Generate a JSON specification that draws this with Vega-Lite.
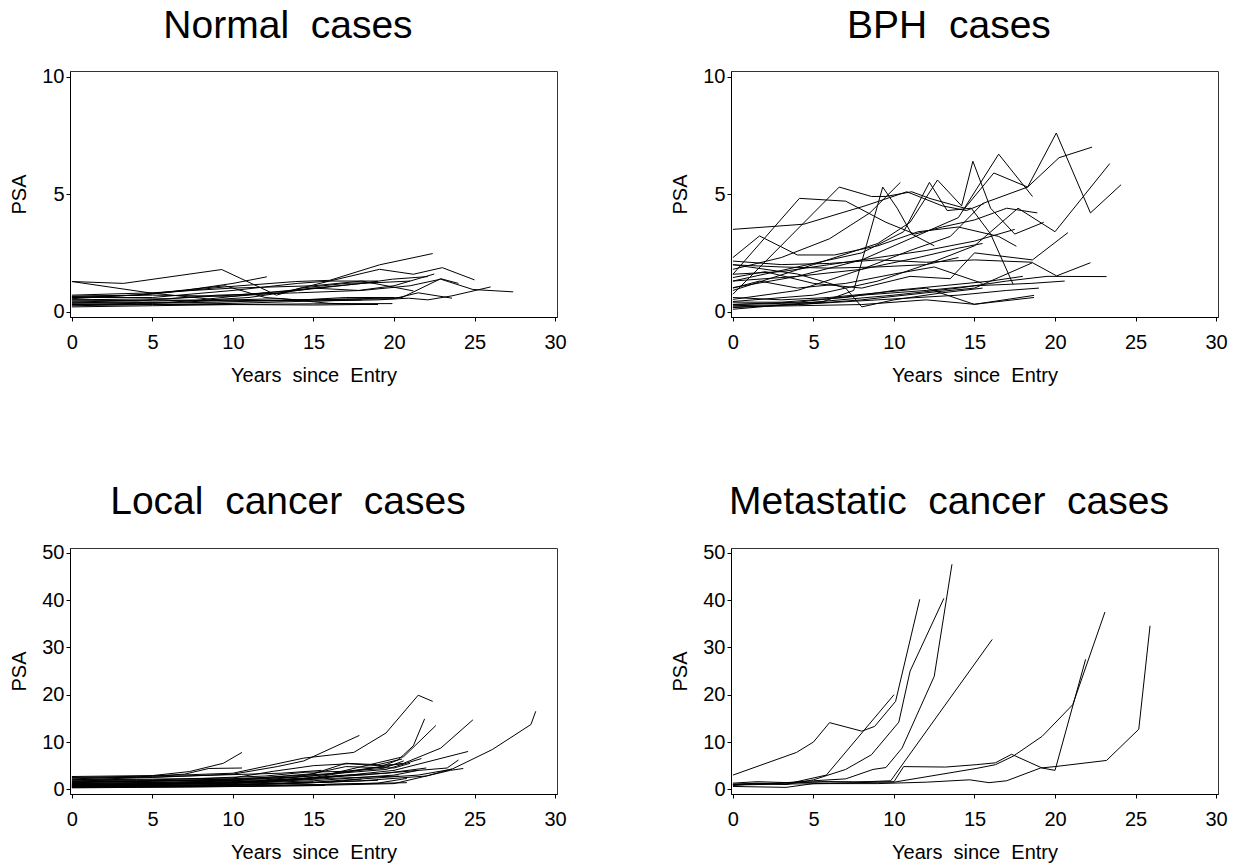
{
"$schema": "https://vega.github.io/schema/vega-lite/v6.json",
"background": "white",
"padding": {"left": 9, "top": 6, "right": 5, "bottom": 0},
"config": {
 "view": {"stroke": "#333", "strokeWidth": 1},
 "axis": {"grid": false, "domainColor": "#000", "domainWidth": 1, "tickColor": "#000", "tickSize": 4, "labelFont": "Liberation Sans", "labelFontSize": 20, "labelColor": "#000", "titleFont": "Liberation Sans", "titleFontSize": 20, "titleFontWeight": "normal", "titleColor": "#000", "labelOverlap": false},
 "axisX": {"labelPadding": 11, "titlePadding": 13, "labelFlush": false},
 "axisY": {"labelPadding": 2, "titlePadding": 12},
 "title": {"font": "Liberation Sans", "fontSize": 39, "fontWeight": "normal", "color": "#000", "anchor": "middle", "frame": "bounds", "offset": 21},
 "line": {"color": "#000", "strokeWidth": 1}
},
"columns": 2,
"spacing": {"row": 96, "column": 103},
"datasets": {
"normal": [
{"i":1,"t":0,"v":1.28},{"i":1,"t":3.2,"v":1.2},{"i":1,"t":9.3,"v":1.79},{"i":1,"t":12.7,"v":0.7},{"i":1,"t":14.2,"v":1.0},{"i":1,"t":17,"v":1.2},{"i":1,"t":19,"v":1.25},
{"i":2,"t":0,"v":1.28},{"i":2,"t":4.8,"v":0.8},{"i":2,"t":9,"v":0.5},{"i":2,"t":13,"v":0.45},{"i":2,"t":17,"v":0.6},{"i":2,"t":20,"v":0.6},
{"i":3,"t":0,"v":0.65},{"i":3,"t":4,"v":0.7},{"i":3,"t":7,"v":0.9},{"i":3,"t":10,"v":1.2},{"i":3,"t":12.1,"v":1.48},
{"i":4,"t":0,"v":0.55},{"i":4,"t":5,"v":0.75},{"i":4,"t":9.5,"v":1.05},{"i":4,"t":13.9,"v":1.28},{"i":4,"t":16,"v":1.33},{"i":4,"t":19.1,"v":1.99},{"i":4,"t":22.4,"v":2.47},
{"i":5,"t":0,"v":0.6},{"i":5,"t":5,"v":0.6},{"i":5,"t":10,"v":0.9},{"i":5,"t":14,"v":1.2},{"i":5,"t":16,"v":1.3},{"i":5,"t":19.1,"v":1.8},{"i":5,"t":21.2,"v":1.59},{"i":5,"t":23,"v":1.87},{"i":5,"t":25,"v":1.35},
{"i":6,"t":0,"v":0.45},{"i":6,"t":4,"v":0.45},{"i":6,"t":9,"v":0.7},{"i":6,"t":14,"v":0.8},{"i":6,"t":18,"v":0.9},{"i":6,"t":21,"v":1.1},{"i":6,"t":22.9,"v":1.38},{"i":6,"t":24.9,"v":0.94},{"i":6,"t":27.4,"v":0.84},
{"i":7,"t":0,"v":0.3},{"i":7,"t":5,"v":0.3},{"i":7,"t":10,"v":0.35},{"i":7,"t":15,"v":0.45},{"i":7,"t":19,"v":0.5},{"i":7,"t":20.9,"v":0.57},{"i":7,"t":22.1,"v":0.5},{"i":7,"t":23.6,"v":0.67},{"i":7,"t":26,"v":1.05},
{"i":8,"t":0,"v":0.5},{"i":8,"t":6,"v":0.55},{"i":8,"t":10,"v":0.7},{"i":8,"t":14,"v":0.9},{"i":8,"t":18,"v":1.2},{"i":8,"t":19.9,"v":1.38},{"i":8,"t":22.1,"v":1.49},
{"i":9,"t":0,"v":0.4},{"i":9,"t":5,"v":0.5},{"i":9,"t":10,"v":0.45},{"i":9,"t":15,"v":0.5},{"i":9,"t":20,"v":0.55},{"i":9,"t":21.5,"v":0.8},{"i":9,"t":23.6,"v":0.57},
{"i":10,"t":0,"v":0.7},{"i":10,"t":5,"v":0.8},{"i":10,"t":10,"v":1.0},{"i":10,"t":15,"v":1.1},{"i":10,"t":18,"v":1.3},{"i":10,"t":21.2,"v":0.88},
{"i":11,"t":0,"v":0.35},{"i":11,"t":6,"v":0.4},{"i":11,"t":11,"v":0.6},{"i":11,"t":15,"v":1.0},{"i":11,"t":18,"v":1.2},{"i":11,"t":21,"v":1.3},
{"i":12,"t":0,"v":0.25},{"i":12,"t":5,"v":0.3},{"i":12,"t":10,"v":0.3},{"i":12,"t":15,"v":0.33},{"i":12,"t":19.9,"v":0.34},
{"i":13,"t":0,"v":0.2},{"i":13,"t":5,"v":0.25},{"i":13,"t":10,"v":0.3},{"i":13,"t":15,"v":0.28},{"i":13,"t":19,"v":0.31},
{"i":14,"t":0,"v":0.6},{"i":14,"t":4,"v":0.7},{"i":14,"t":9.5,"v":1.1},{"i":14,"t":12,"v":0.6},{"i":14,"t":15,"v":0.45},{"i":14,"t":18,"v":0.5},
{"i":15,"t":0,"v":0.4},{"i":15,"t":5,"v":0.35},{"i":15,"t":10,"v":0.5},{"i":15,"t":13,"v":0.55},{"i":15,"t":16,"v":0.35},{"i":15,"t":19,"v":0.3},
{"i":16,"t":0,"v":0.5},{"i":16,"t":5,"v":0.45},{"i":16,"t":8,"v":0.5},{"i":16,"t":12,"v":0.8},{"i":16,"t":15,"v":1.0},{"i":16,"t":17.8,"v":0.9},{"i":16,"t":20,"v":1.1},{"i":16,"t":22.5,"v":1.6},
{"i":17,"t":0,"v":0.3},{"i":17,"t":4,"v":0.35},{"i":17,"t":9,"v":0.4},{"i":17,"t":14,"v":0.5},{"i":17,"t":18,"v":0.55},{"i":17,"t":20.5,"v":0.6},{"i":17,"t":22.9,"v":1.4},{"i":17,"t":24,"v":1.2},
{"i":18,"t":0,"v":0.65},{"i":18,"t":5,"v":0.7},{"i":18,"t":10,"v":0.65},{"i":18,"t":13,"v":0.8},{"i":18,"t":16,"v":1.3},{"i":18,"t":19,"v":1.3}
],
"bph": [
{"i":1,"t":0,"v":3.5},{"i":1,"t":4.4,"v":3.72},{"i":1,"t":8.2,"v":4.5},{"i":1,"t":10.8,"v":5.1},{"i":1,"t":13,"v":4.5},{"i":1,"t":14.5,"v":4.3},{"i":1,"t":15.6,"v":4.6},
{"i":2,"t":0,"v":2.3},{"i":2,"t":1.65,"v":3.22},{"i":2,"t":4,"v":2.41},{"i":2,"t":6.3,"v":2.41},{"i":2,"t":9,"v":2.8},{"i":2,"t":11.5,"v":3.4},{"i":2,"t":14,"v":3.6},{"i":2,"t":16.5,"v":3.2},{"i":2,"t":17.6,"v":2.78},
{"i":3,"t":0,"v":1.59},{"i":3,"t":4.13,"v":4.82},{"i":3,"t":7,"v":4.7},{"i":3,"t":9.5,"v":3.8},{"i":3,"t":11.3,"v":3.3},{"i":3,"t":13,"v":3.6},{"i":3,"t":15,"v":3.9},{"i":3,"t":17,"v":4.4},{"i":3,"t":18.9,"v":4.2},
{"i":4,"t":0,"v":0.74},{"i":4,"t":6.6,"v":5.3},{"i":4,"t":8.6,"v":4.9},{"i":4,"t":9.5,"v":4.9},{"i":4,"t":11.1,"v":5.1},{"i":4,"t":12.3,"v":4.8},{"i":4,"t":14.4,"v":4.4},{"i":4,"t":16.2,"v":5.9},{"i":4,"t":18.3,"v":5.3},{"i":4,"t":20.25,"v":6.55},{"i":4,"t":22.3,"v":7.0},
{"i":5,"t":0,"v":1.8},{"i":5,"t":3,"v":2.3},{"i":5,"t":6,"v":3.1},{"i":5,"t":8.5,"v":4.2},{"i":5,"t":10.4,"v":5.5},
{"i":6,"t":0,"v":0.3},{"i":6,"t":3,"v":0.35},{"i":6,"t":5.5,"v":0.4},{"i":6,"t":7.5,"v":0.9},{"i":6,"t":9.3,"v":5.3},{"i":6,"t":10.2,"v":4.4},{"i":6,"t":11.1,"v":3.3},{"i":6,"t":12.5,"v":2.8},
{"i":7,"t":0,"v":1.3},{"i":7,"t":4,"v":1.9},{"i":7,"t":8,"v":2.5},{"i":7,"t":10.6,"v":3.4},{"i":7,"t":12.2,"v":5.5},{"i":7,"t":13.3,"v":4.3},{"i":7,"t":14.8,"v":4.4},{"i":7,"t":16,"v":3.3},{"i":7,"t":17.4,"v":1.16},
{"i":8,"t":0,"v":0.9},{"i":8,"t":5,"v":2.0},{"i":8,"t":9,"v":2.9},{"i":8,"t":11,"v":3.8},{"i":8,"t":12.7,"v":5.6},{"i":8,"t":14.2,"v":4.5},{"i":8,"t":14.9,"v":6.4},{"i":8,"t":16,"v":4.4},{"i":8,"t":17.5,"v":3.3},{"i":8,"t":19.3,"v":3.8},
{"i":9,"t":0,"v":1.02},{"i":9,"t":4,"v":1.5},{"i":9,"t":8,"v":2.2},{"i":9,"t":11,"v":3.1},{"i":9,"t":14,"v":4.0},{"i":9,"t":16.5,"v":6.7},{"i":9,"t":18.6,"v":4.9},
{"i":10,"t":0,"v":0.52},{"i":10,"t":4,"v":0.9},{"i":10,"t":8,"v":1.8},{"i":10,"t":11,"v":2.6},{"i":10,"t":13.5,"v":3.2},{"i":10,"t":15.5,"v":4.6},{"i":10,"t":18.3,"v":5.3},{"i":10,"t":20.08,"v":7.6},{"i":10,"t":22.2,"v":4.2},{"i":10,"t":24.1,"v":5.4},
{"i":11,"t":0,"v":0.43},{"i":11,"t":5,"v":0.7},{"i":11,"t":9,"v":1.3},{"i":11,"t":12,"v":2.0},{"i":11,"t":15,"v":2.8},{"i":11,"t":17.7,"v":4.4},{"i":11,"t":20,"v":3.4},{"i":11,"t":23.4,"v":6.3},
{"i":12,"t":0,"v":1.45},{"i":12,"t":2,"v":1.7},{"i":12,"t":5,"v":1.2},{"i":12,"t":8,"v":1.0},{"i":12,"t":11,"v":1.5},{"i":12,"t":13.5,"v":1.4},{"i":12,"t":15,"v":2.5},{"i":12,"t":18.6,"v":2.2},{"i":12,"t":20.8,"v":3.36},
{"i":13,"t":0,"v":0.17},{"i":13,"t":4,"v":0.3},{"i":13,"t":8,"v":0.5},{"i":13,"t":12,"v":0.8},{"i":13,"t":15,"v":1.0},{"i":13,"t":18.6,"v":2.08},{"i":13,"t":20.1,"v":1.52},{"i":13,"t":22.2,"v":2.08},
{"i":14,"t":0,"v":0.1},{"i":14,"t":5,"v":0.4},{"i":14,"t":10,"v":0.7},{"i":14,"t":14,"v":1.0},{"i":14,"t":17,"v":1.3},{"i":14,"t":19.5,"v":1.5},{"i":14,"t":23.2,"v":1.49},
{"i":15,"t":0,"v":0.31},{"i":15,"t":4,"v":0.4},{"i":15,"t":8,"v":0.7},{"i":15,"t":12,"v":0.9},{"i":15,"t":15,"v":1.1},{"i":15,"t":18.5,"v":1.2},{"i":15,"t":20.6,"v":1.3},
{"i":16,"t":0,"v":0.2},{"i":16,"t":4,"v":0.25},{"i":16,"t":8,"v":0.3},{"i":16,"t":12,"v":0.5},{"i":16,"t":15,"v":0.31},{"i":16,"t":18.7,"v":0.69},
{"i":17,"t":0,"v":2.15},{"i":17,"t":3,"v":2.0},{"i":17,"t":6,"v":2.05},{"i":17,"t":9,"v":2.2},{"i":17,"t":12,"v":2.1},{"i":17,"t":15,"v":2.2},{"i":17,"t":18.6,"v":2.1},
{"i":18,"t":0,"v":1.99},{"i":18,"t":3,"v":1.9},{"i":18,"t":6,"v":1.85},{"i":18,"t":9,"v":1.9},{"i":18,"t":12,"v":2.0},{"i":18,"t":14,"v":2.3},
{"i":19,"t":0,"v":2.0},{"i":19,"t":4,"v":1.6},{"i":19,"t":7,"v":1.0},{"i":19,"t":8,"v":0.2},{"i":19,"t":10,"v":0.5},{"i":19,"t":13,"v":0.8},{"i":19,"t":15.5,"v":1.0},
{"i":20,"t":0,"v":1.0},{"i":20,"t":1.65,"v":1.3},{"i":20,"t":4,"v":1.0},{"i":20,"t":7,"v":1.2},{"i":20,"t":10,"v":1.6},{"i":20,"t":12.5,"v":1.9},{"i":20,"t":15.5,"v":1.2},
{"i":21,"t":0,"v":0.6},{"i":21,"t":3,"v":0.5},{"i":21,"t":6,"v":0.6},{"i":21,"t":9,"v":0.8},{"i":21,"t":12,"v":1.0},{"i":21,"t":14.98,"v":0.31},{"i":21,"t":18.7,"v":0.6},
{"i":22,"t":0,"v":1.59},{"i":22,"t":3,"v":1.7},{"i":22,"t":6,"v":2.0},{"i":22,"t":9,"v":2.3},{"i":22,"t":12,"v":2.6},{"i":22,"t":15,"v":3.0},{"i":22,"t":17.5,"v":3.5},
{"i":23,"t":0,"v":0.4},{"i":23,"t":3,"v":0.4},{"i":23,"t":7,"v":0.6},{"i":23,"t":10,"v":0.9},{"i":23,"t":13,"v":1.1},{"i":23,"t":16,"v":1.3},{"i":23,"t":18,"v":1.5},
{"i":24,"t":0,"v":0.25},{"i":24,"t":4,"v":0.3},{"i":24,"t":9,"v":0.5},{"i":24,"t":14,"v":0.7},{"i":24,"t":17,"v":0.9},{"i":24,"t":19,"v":1.0},
{"i":25,"t":0,"v":1.3},{"i":25,"t":4,"v":1.5},{"i":25,"t":8,"v":1.8},{"i":25,"t":11.5,"v":2.3},{"i":25,"t":14,"v":2.7},{"i":25,"t":15.5,"v":2.9}
],
"local": [
{"i":1,"t":0,"v":2.5},{"i":1,"t":5,"v":2.8},{"i":1,"t":10,"v":3.4},{"i":1,"t":12.2,"v":5.0},{"i":1,"t":14.4,"v":6.6},{"i":1,"t":17.5,"v":7.8},{"i":1,"t":19.5,"v":11.9},{"i":1,"t":21.5,"v":19.9},{"i":1,"t":22.4,"v":18.6},
{"i":2,"t":0,"v":2.0},{"i":2,"t":5,"v":2.5},{"i":2,"t":10,"v":3.2},{"i":2,"t":12.75,"v":4.8},{"i":2,"t":14.4,"v":6.0},{"i":2,"t":17.85,"v":11.4},
{"i":3,"t":0,"v":1.5},{"i":3,"t":5,"v":1.8},{"i":3,"t":10,"v":2.0},{"i":3,"t":15,"v":2.8},{"i":3,"t":19.2,"v":4.8},{"i":3,"t":20.25,"v":6.2},{"i":3,"t":21.2,"v":9.2},{"i":3,"t":21.9,"v":14.9},
{"i":4,"t":0,"v":1.2},{"i":4,"t":6,"v":1.5},{"i":4,"t":12,"v":2.0},{"i":4,"t":16,"v":3.2},{"i":4,"t":20.6,"v":6.9},{"i":4,"t":22.6,"v":13.5},
{"i":5,"t":0,"v":1.0},{"i":5,"t":5,"v":1.2},{"i":5,"t":10,"v":1.5},{"i":5,"t":15,"v":2.5},{"i":5,"t":20.6,"v":5.5},{"i":5,"t":22.9,"v":8.7},{"i":5,"t":24.9,"v":14.7},
{"i":6,"t":0,"v":0.8},{"i":6,"t":5,"v":1.0},{"i":6,"t":10,"v":1.3},{"i":6,"t":15,"v":2.2},{"i":6,"t":20,"v":4.0},{"i":6,"t":24.6,"v":8.0},
{"i":7,"t":0,"v":0.6},{"i":7,"t":5,"v":0.8},{"i":7,"t":10,"v":1.0},{"i":7,"t":15,"v":1.5},{"i":7,"t":21.5,"v":3.0},{"i":7,"t":23.6,"v":4.25},{"i":7,"t":26.1,"v":8.4},{"i":7,"t":28.5,"v":13.7},{"i":7,"t":28.8,"v":16.5},
{"i":8,"t":0,"v":0.9},{"i":8,"t":6,"v":1.2},{"i":8,"t":12,"v":1.8},{"i":8,"t":18,"v":3.0},{"i":8,"t":23.3,"v":4.5},{"i":8,"t":24,"v":6.2},
{"i":9,"t":0,"v":0.5},{"i":9,"t":5,"v":0.6},{"i":9,"t":10,"v":0.8},{"i":9,"t":15.5,"v":1.0},{"i":9,"t":20.8,"v":1.4},
{"i":10,"t":0,"v":2.7},{"i":10,"t":5,"v":2.9},{"i":10,"t":7.3,"v":3.75},{"i":10,"t":9.4,"v":5.5},{"i":10,"t":10.56,"v":7.8},
{"i":11,"t":0,"v":2.2},{"i":11,"t":4,"v":2.6},{"i":11,"t":7,"v":3.2},{"i":11,"t":8.5,"v":4.4},{"i":11,"t":10.56,"v":4.5},
{"i":12,"t":0,"v":1.8},{"i":12,"t":5,"v":2.0},{"i":12,"t":10,"v":2.4},{"i":12,"t":12.5,"v":3.8},{"i":12,"t":15,"v":5.0},{"i":12,"t":17.2,"v":5.4},{"i":12,"t":19,"v":5.0},{"i":12,"t":20.6,"v":5.4},
{"i":13,"t":0,"v":1.4},{"i":13,"t":4,"v":1.6},{"i":13,"t":8,"v":2.0},{"i":13,"t":12,"v":2.5},{"i":13,"t":15,"v":3.3},{"i":13,"t":17,"v":5.5},{"i":13,"t":19,"v":5.2},{"i":13,"t":20.5,"v":6.4},
{"i":14,"t":0,"v":0.4},{"i":14,"t":5,"v":0.5},{"i":14,"t":10,"v":0.6},{"i":14,"t":15,"v":0.8},{"i":14,"t":20,"v":1.2},{"i":14,"t":23.5,"v":4.0},{"i":14,"t":24.3,"v":4.4},
{"i":15,"t":0,"v":0.7},{"i":15,"t":4,"v":0.8},{"i":15,"t":8,"v":0.9},{"i":15,"t":12,"v":1.1},{"i":15,"t":16,"v":1.5},{"i":15,"t":18,"v":2.2},
{"i":16,"t":0,"v":1.1},{"i":16,"t":5,"v":1.1},{"i":16,"t":10,"v":1.2},{"i":16,"t":15,"v":1.8},{"i":16,"t":20,"v":3.0},{"i":16,"t":21.5,"v":4.0},
{"i":17,"t":0,"v":0.3},{"i":17,"t":4,"v":0.4},{"i":17,"t":8,"v":0.5},{"i":17,"t":13,"v":0.7},{"i":17,"t":15.7,"v":0.8},
{"i":18,"t":0,"v":1.6},{"i":18,"t":5,"v":1.7},{"i":18,"t":10,"v":1.9},{"i":18,"t":14,"v":2.6},{"i":18,"t":17,"v":4.8},{"i":18,"t":20,"v":4.5},{"i":18,"t":21,"v":5.5},
{"i":19,"t":0,"v":0.9},{"i":19,"t":4,"v":1.0},{"i":19,"t":9,"v":1.3},{"i":19,"t":13,"v":1.8},{"i":19,"t":16.5,"v":2.9},{"i":19,"t":19.5,"v":3.4},{"i":19,"t":22,"v":4.5},
{"i":20,"t":0,"v":1.3},{"i":20,"t":5,"v":1.3},{"i":20,"t":11,"v":1.6},{"i":20,"t":15,"v":2.4},{"i":20,"t":18,"v":3.2},
{"i":21,"t":0,"v":0.5},{"i":21,"t":3,"v":0.6},{"i":21,"t":8,"v":0.8},{"i":21,"t":12,"v":1.1},{"i":21,"t":15,"v":1.4},{"i":21,"t":19,"v":1.9},
{"i":22,"t":0,"v":2.4},{"i":22,"t":4,"v":2.5},{"i":22,"t":8,"v":2.9},{"i":22,"t":11,"v":3.2},{"i":22,"t":13,"v":3.4},{"i":22,"t":15.5,"v":4.0},
{"i":23,"t":0,"v":1.0},{"i":23,"t":6,"v":1.1},{"i":23,"t":12,"v":1.5},{"i":23,"t":16,"v":2.3},{"i":23,"t":20.3,"v":2.8},
{"i":24,"t":0,"v":0.6},{"i":24,"t":5,"v":0.7},{"i":24,"t":9,"v":0.9},{"i":24,"t":13,"v":1.2},{"i":24,"t":15,"v":1.6},
{"i":25,"t":0,"v":1.7},{"i":25,"t":4,"v":1.8},{"i":25,"t":10,"v":2.1},{"i":25,"t":14,"v":2.9},{"i":25,"t":17,"v":3.5},{"i":25,"t":19.5,"v":4.2},{"i":25,"t":21.7,"v":6.5},
{"i":26,"t":0,"v":0.8},{"i":26,"t":5,"v":0.8},{"i":26,"t":10,"v":1.0},{"i":26,"t":14,"v":1.3},{"i":26,"t":18,"v":1.8},{"i":26,"t":22,"v":2.8},{"i":26,"t":23.6,"v":4.3},
{"i":27,"t":0,"v":1.2},{"i":27,"t":5,"v":1.4},{"i":27,"t":8,"v":1.6},{"i":27,"t":10.5,"v":1.8},
{"i":28,"t":0,"v":0.4},{"i":28,"t":4,"v":0.5},{"i":28,"t":9,"v":0.6},{"i":28,"t":14,"v":0.9},{"i":28,"t":19,"v":1.3},{"i":28,"t":20.8,"v":2.3},
{"i":29,"t":0,"v":2.0},{"i":29,"t":4,"v":2.1},{"i":29,"t":8,"v":2.3},{"i":29,"t":12,"v":2.8},{"i":29,"t":14.5,"v":3.6},{"i":29,"t":17,"v":3.8},{"i":29,"t":19.3,"v":4.4},{"i":29,"t":20.6,"v":6.0}
],
"meta": [
{"i":1,"t":0,"v":3.0},{"i":1,"t":3.95,"v":7.8},{"i":1,"t":5.0,"v":10.0},{"i":1,"t":6.0,"v":14.1},{"i":1,"t":8.0,"v":12.3},{"i":1,"t":8.8,"v":13.3},{"i":1,"t":10.1,"v":18.6},{"i":1,"t":11.6,"v":40.2},
{"i":2,"t":0,"v":1.0},{"i":2,"t":1.5,"v":1.3},{"i":2,"t":3.3,"v":1.1},{"i":2,"t":5.8,"v":3.0},{"i":2,"t":10.0,"v":20.0},
{"i":3,"t":0,"v":0.8},{"i":3,"t":1.5,"v":1.2},{"i":3,"t":3.3,"v":1.0},{"i":3,"t":5.0,"v":2.0},{"i":3,"t":7.0,"v":4.2},{"i":3,"t":8.6,"v":7.3},{"i":3,"t":10.3,"v":14.2},{"i":3,"t":11.0,"v":25.0},{"i":3,"t":13.1,"v":40.4},
{"i":4,"t":0,"v":1.0},{"i":4,"t":2,"v":1.1},{"i":4,"t":5,"v":1.8},{"i":4,"t":7,"v":2.2},{"i":4,"t":8.7,"v":4.2},{"i":4,"t":9.5,"v":4.6},{"i":4,"t":10.5,"v":8.7},{"i":4,"t":12.5,"v":23.9},{"i":4,"t":13.6,"v":47.6},
{"i":5,"t":0,"v":1.3},{"i":5,"t":1.5,"v":1.6},{"i":5,"t":3.5,"v":1.4},{"i":5,"t":5.5,"v":1.6},{"i":5,"t":7.5,"v":1.5},{"i":5,"t":9.8,"v":1.8},{"i":5,"t":16.1,"v":31.7},
{"i":6,"t":0,"v":0.6},{"i":6,"t":3.3,"v":0.4},{"i":6,"t":5,"v":1.2},{"i":6,"t":7,"v":1.3},{"i":6,"t":8.7,"v":1.5},{"i":6,"t":10,"v":1.6},{"i":6,"t":10.6,"v":4.8},{"i":6,"t":13.2,"v":4.7},{"i":6,"t":15.1,"v":5.2},{"i":6,"t":16.3,"v":5.6},{"i":6,"t":17.3,"v":7.4},{"i":6,"t":19.2,"v":4.5},{"i":6,"t":20,"v":4.0},{"i":6,"t":21.9,"v":27.5},
{"i":7,"t":0,"v":1.1},{"i":7,"t":3,"v":1.3},{"i":7,"t":6,"v":1.6},{"i":7,"t":10,"v":1.5},{"i":7,"t":15.1,"v":4.4},{"i":7,"t":16.3,"v":5.2},{"i":7,"t":17.4,"v":7.0},{"i":7,"t":19.2,"v":11.2},{"i":7,"t":21.1,"v":17.9},{"i":7,"t":23.1,"v":37.5},
{"i":8,"t":0,"v":0.9},{"i":8,"t":3,"v":1.1},{"i":8,"t":6,"v":1.2},{"i":8,"t":9,"v":1.2},{"i":8,"t":12,"v":1.5},{"i":8,"t":14.7,"v":2.0},{"i":8,"t":15.9,"v":1.4},{"i":8,"t":17.0,"v":1.8},{"i":8,"t":19.1,"v":4.5},{"i":8,"t":20.0,"v":4.8},{"i":8,"t":23.2,"v":6.1},{"i":8,"t":25.2,"v":12.7},{"i":8,"t":25.9,"v":34.6}
]
},
"concat": [
{"title": "Normal\u00a0\u00a0cases", "width": 487, "height": 246, "data": {"name": "normal"}, "mark": "line",
 "encoding": {
  "x": {"field": "t", "type": "quantitative", "scale": {"domain": [-0.12, 30.12], "nice": false, "zero": false}, "axis": {"values": [0,5,10,15,20,25,30], "title": "Years\u00a0\u00a0since\u00a0\u00a0Entry"}},
  "y": {"field": "v", "type": "quantitative", "scale": {"domain": [-0.23, 10.24], "nice": false, "zero": false}, "axis": {"values": [0,5,10], "title": "PSA"}},
  "detail": {"field": "i", "type": "nominal"}}},
{"title": "BPH\u00a0\u00a0cases", "width": 487, "height": 246, "data": {"name": "bph"}, "mark": "line",
 "encoding": {
  "x": {"field": "t", "type": "quantitative", "scale": {"domain": [-0.12, 30.12], "nice": false, "zero": false}, "axis": {"values": [0,5,10,15,20,25,30], "title": "Years\u00a0\u00a0since\u00a0\u00a0Entry"}},
  "y": {"field": "v", "type": "quantitative", "scale": {"domain": [-0.23, 10.24], "nice": false, "zero": false}, "axis": {"values": [0,5,10], "title": "PSA"}},
  "detail": {"field": "i", "type": "nominal"}}},
{"title": "Local\u00a0\u00a0cancer\u00a0\u00a0cases", "width": 487, "height": 246, "data": {"name": "local"}, "mark": "line",
 "encoding": {
  "x": {"field": "t", "type": "quantitative", "scale": {"domain": [-0.12, 30.12], "nice": false, "zero": false}, "axis": {"values": [0,5,10,15,20,25,30], "title": "Years\u00a0\u00a0since\u00a0\u00a0Entry"}},
  "y": {"field": "v", "type": "quantitative", "scale": {"domain": [-1.0, 51.05], "nice": false, "zero": false}, "axis": {"values": [0,10,20,30,40,50], "title": "PSA"}},
  "detail": {"field": "i", "type": "nominal"}}},
{"title": "Metastatic\u00a0\u00a0cancer\u00a0\u00a0cases", "width": 487, "height": 246, "data": {"name": "meta"}, "mark": "line",
 "encoding": {
  "x": {"field": "t", "type": "quantitative", "scale": {"domain": [-0.12, 30.12], "nice": false, "zero": false}, "axis": {"values": [0,5,10,15,20,25,30], "title": "Years\u00a0\u00a0since\u00a0\u00a0Entry"}},
  "y": {"field": "v", "type": "quantitative", "scale": {"domain": [-1.0, 51.05], "nice": false, "zero": false}, "axis": {"values": [0,10,20,30,40,50], "title": "PSA"}},
  "detail": {"field": "i", "type": "nominal"}}}
]
}
